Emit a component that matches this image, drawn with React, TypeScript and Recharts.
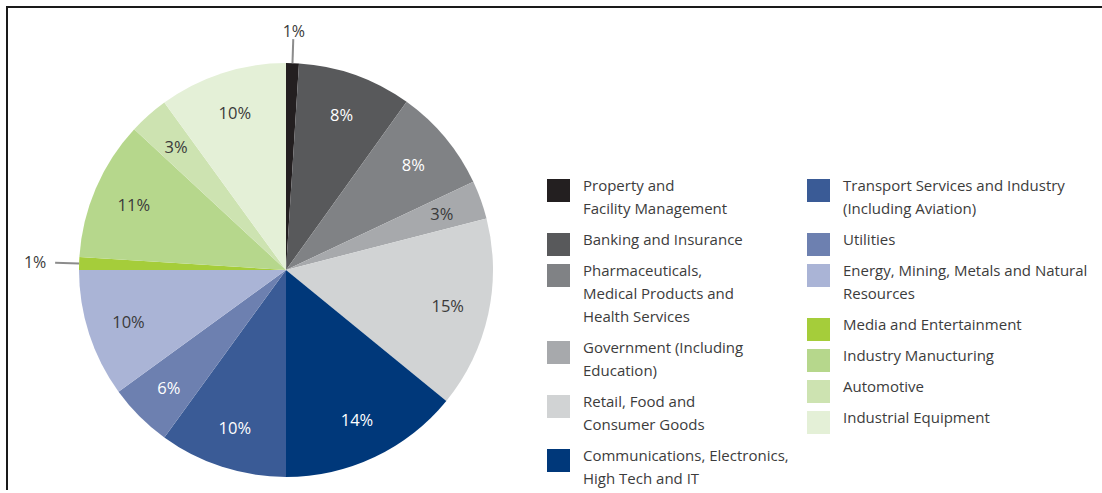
import React from "react";
import { PieChart, Pie, Cell, Legend } from "recharts";

// sectors, clockwise from 12 o'clock (same order as the legend)
const sectors = [
    "Property and\nFacility Management",
    "Banking and Insurance",
    "Pharmaceuticals,\nMedical Products and\nHealth Services",
    "Government (Including\nEducation)",
    "Retail, Food and\nConsumer Goods",
    "Communications, Electronics,\nHigh Tech and IT",
    "Transport Services and Industry\n(Including Aviation)",
    "Utilities",
    "Energy, Mining, Metals and Natural\nResources",
    "Media and Entertainment",
    "Industry Manucturing",
    "Automotive",
    "Industrial Equipment",
];

// slice sizes as drawn in the picture
const shares = [1.0, 8.9, 8.1, 3.0, 14.9, 14.1, 10.0, 5.0, 10.0, 1.0, 10.9, 3.1, 10.0];

// percentages printed on the slices
const printed = ["1%", "8%", "8%", "3%", "15%", "14%", "10%", "6%", "10%", "1%", "11%", "3%", "10%"];

const colors = [
    "#231f20",
    "#58595b",
    "#808285",
    "#a7a9ac",
    "#d1d3d4",
    "#00387a",
    "#3a5b96",
    "#6d80b0",
    "#aab4d6",
    "#a5cd3a",
    "#b6d78c",
    "#cde3b1",
    "#e4f0d7",
];

const darkText = [false, false, false, true, true, false, false, false, true, true, true, true, true];

const data = sectors.map((name, i) => ({ name, value: shares[i], label: printed[i] }));

const FONT = "'Open Sans', sans-serif";
const RADIAN = Math.PI / 180;

const renderLabel = (props: any) => {
    const { cx, cy, midAngle, outerRadius, index } = props;
    const cos = Math.cos(-midAngle * RADIAN);
    const sin = Math.sin(-midAngle * RADIAN);
    const text = printed[index];

    if (shares[index] < 2) {
        // small slice: leader line and label outside
        const x1 = cx + outerRadius * cos;
        const y1 = cy + outerRadius * sin;
        const x2 = cx + (outerRadius + 24) * cos;
        const y2 = cy + (outerRadius + 24) * sin;
        const tx = cx + (outerRadius + 44) * cos;
        const ty = cy + (outerRadius + 32) * sin;
        return (
            <g>
                <line x1={x1} y1={y1} x2={x2} y2={y2} stroke="#8c8c8c" strokeWidth={2} />
                <text
                    x={tx}
                    y={ty}
                    textAnchor="middle"
                    dominantBaseline="central"
                    fill="#3a3a3a"
                    fontSize={16}
                    fontFamily={FONT}
                >
                    {text}
                </text>
            </g>
        );
    }

    const r = outerRadius * 0.8;
    return (
        <text
            x={cx + r * cos}
            y={cy + r * sin}
            textAnchor="middle"
            dominantBaseline="central"
            fill={darkText[index] ? "#3a3a3a" : "#ffffff"}
            fontSize={16.5}
            fontFamily={FONT}
        >
            {text}
        </text>
    );
};

const LegendRow = ({ i }: { i: number }) => (
    <div style={{ position: "relative", paddingLeft: 36, marginBottom: 8 }}>
        <div
            style={{
                position: "absolute",
                left: 0,
                top: 5,
                width: 23,
                height: 23,
                background: colors[i],
            }}
        />
        <div
            style={{
                whiteSpace: "pre",
                lineHeight: "23px",
                fontSize: 15,
                color: "#3c3c3c",
                fontFamily: FONT,
            }}
        >
            {sectors[i]}
        </div>
    </div>
);

const renderLegend = () => (
    <div style={{ position: "relative", width: 560, height: 310 }}>
        <div style={{ position: "absolute", left: 0, top: 0 }}>
            {[0, 1, 2, 3, 4, 5].map((i) => (
                <LegendRow key={i} i={i} />
            ))}
        </div>
        <div style={{ position: "absolute", left: 260, top: 0 }}>
            {[6, 7, 8, 9, 10, 11, 12].map((i) => (
                <LegendRow key={i} i={i} />
            ))}
        </div>
    </div>
);

export default function App() {
    return (
        <div style={{ position: "absolute", left: 0, top: 0, width: 1102, height: 490, overflow: "hidden" }}>
            {/* frame: only the top and left edges show in the crop */}
            <div style={{ position: "absolute", left: 6, top: 6, width: 1096, height: 2, background: "#1a1a1a" }} />
            <div style={{ position: "absolute", left: 6, top: 6, width: 2, height: 484, background: "#1a1a1a" }} />
            <div style={{ position: "absolute", left: 8, top: 8 }}>
                <PieChart width={1094} height={480} margin={{ top: 0, right: 0, bottom: 0, left: 0 }}>
                    <Pie
                        data={data}
                        dataKey="value"
                        nameKey="name"
                        cx={278}
                        cy={262}
                        outerRadius={207}
                        startAngle={90}
                        endAngle={-270}
                        stroke="none"
                        label={renderLabel}
                        labelLine={false}
                        isAnimationActive={false}
                    >
                        {data.map((d, i) => (
                            <Cell key={d.name} fill={colors[i]} />
                        ))}
                    </Pie>
                    <Legend
                        content={renderLegend}
                        wrapperStyle={{ position: "absolute", left: 539, top: 166, width: 560 }}
                    />
                </PieChart>
            </div>
        </div>
    );
}
